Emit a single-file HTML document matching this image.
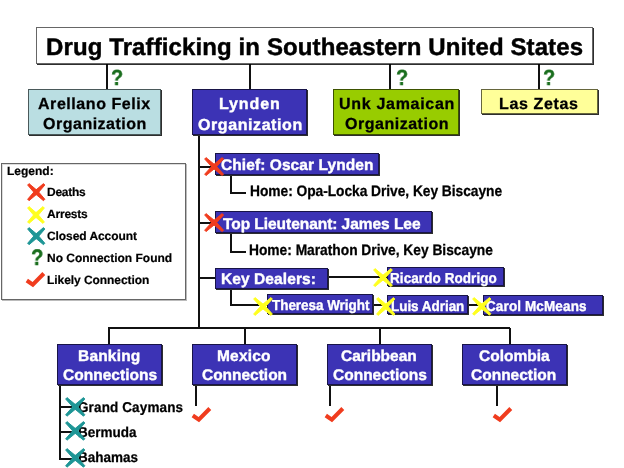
<!DOCTYPE html>
<html><head><meta charset="utf-8"><style>
html,body{margin:0;padding:0;}
body{width:624px;height:468px;overflow:hidden;background:#fff;position:relative;font-family:"Liberation Sans",sans-serif;}
.b{position:absolute;box-sizing:border-box;border:1px solid rgba(0,0,0,0.6);box-shadow:1px 1px 0 rgba(0,0,0,0.82);}
.l{position:absolute;background:#111;}
.t{text-rendering:geometricPrecision;position:absolute;will-change:transform;white-space:nowrap;font-weight:bold;line-height:normal;}
.i{position:absolute;overflow:visible;}
.q{text-rendering:geometricPrecision;position:absolute;will-change:transform;font-weight:bold;color:#1a6e1e;-webkit-text-stroke:0.4px #1a6e1e;line-height:normal;transform:scaleX(0.9);transform-origin:0 0;}
</style></head><body>
<div class="l" style="left:106.0px;top:63px;width:2px;height:26px"></div>
<div class="l" style="left:249.0px;top:63px;width:2px;height:26px"></div>
<div class="l" style="left:389.0px;top:63px;width:2px;height:26px"></div>
<div class="l" style="left:538.0px;top:63px;width:2px;height:26px"></div>
<div class="l" style="left:198.0px;top:136px;width:2px;height:192.60000000000002px"></div>
<div class="l" style="left:198px;top:165.5px;width:17px;height:2px"></div>
<div class="l" style="left:198px;top:221.5px;width:17px;height:2px"></div>
<div class="l" style="left:198px;top:277.0px;width:17px;height:2px"></div>
<div class="l" style="left:230.0px;top:176px;width:2px;height:17.5px"></div>
<div class="l" style="left:230px;top:191.5px;width:16px;height:2px"></div>
<div class="l" style="left:230.0px;top:234px;width:2px;height:19px"></div>
<div class="l" style="left:230px;top:251.0px;width:16px;height:2px"></div>
<div class="l" style="left:230.0px;top:290px;width:2px;height:16px"></div>
<div class="l" style="left:230px;top:304.0px;width:38px;height:2px"></div>
<div class="l" style="left:329px;top:276.0px;width:58px;height:2px"></div>
<div class="l" style="left:374px;top:304.0px;width:13px;height:2px"></div>
<div class="l" style="left:469px;top:304.0px;width:14px;height:2px"></div>
<div class="l" style="left:107.7px;top:326.6px;width:402.8px;height:2px"></div>
<div class="l" style="left:107.7px;top:327.6px;width:2px;height:16.399999999999977px"></div>
<div class="l" style="left:243.5px;top:327.6px;width:2px;height:16.399999999999977px"></div>
<div class="l" style="left:378.5px;top:327.6px;width:2px;height:16.399999999999977px"></div>
<div class="l" style="left:508.5px;top:327.6px;width:2px;height:16.399999999999977px"></div>
<div class="l" style="left:59.0px;top:386px;width:2px;height:73.5px"></div>
<div class="l" style="left:59px;top:406.0px;width:13px;height:2px"></div>
<div class="l" style="left:59px;top:431.0px;width:13px;height:2px"></div>
<div class="l" style="left:59px;top:457.5px;width:13px;height:2px"></div>
<div class="l" style="left:195.0px;top:386px;width:2px;height:20px"></div>
<div class="l" style="left:329.0px;top:386px;width:2px;height:20px"></div>
<div class="l" style="left:496.0px;top:386px;width:2px;height:20px"></div>
<div class="b" style="left:36px;top:27px;width:557px;height:37px;background:#fff;"></div>
<div class="b" style="left:28px;top:89px;width:133px;height:46px;background:#badee2;"></div>
<div class="b" style="left:192px;top:89px;width:115px;height:46px;background:#3c33b5;"></div>
<div class="b" style="left:333px;top:89px;width:126px;height:46px;background:#98cc00;"></div>
<div class="b" style="left:481px;top:89px;width:117px;height:25px;background:#ffff99;"></div>
<div class="b" style="left:215px;top:153px;width:164px;height:22px;background:#3c33b5;"></div>
<div class="b" style="left:215px;top:211px;width:217px;height:22px;background:#3c33b5;"></div>
<div class="b" style="left:215px;top:268px;width:113px;height:21px;background:#3c33b5;"></div>
<div class="b" style="left:387px;top:267px;width:117px;height:19px;background:#3c33b5;"></div>
<div class="b" style="left:267px;top:294px;width:106px;height:20px;background:#3c33b5;"></div>
<div class="b" style="left:387px;top:295px;width:81px;height:19px;background:#3c33b5;"></div>
<div class="b" style="left:483px;top:295px;width:120px;height:20px;background:#3c33b5;"></div>
<div class="b" style="left:57px;top:344px;width:105px;height:41px;background:#3c33b5;"></div>
<div class="b" style="left:192px;top:344px;width:105px;height:41px;background:#3c33b5;"></div>
<div class="b" style="left:327px;top:344px;width:105px;height:41px;background:#3c33b5;"></div>
<div class="b" style="left:462px;top:344px;width:105px;height:41px;background:#3c33b5;"></div>
<div class="b" style="left:1px;top:163px;width:185px;height:137px;background:#fff;border-color:#666;box-shadow:inset 1px 1px 0 #ddd,1px 1px 0 #bbb;"></div>
<div class="t" style="left:46.30px;top:33.68px;font-size:24px;letter-spacing:0.110px;color:#000;-webkit-text-stroke:0.45px #000">Drug Trafficking in Southeastern United States</div>
<div class="t" style="left:38.40px;top:95.56px;font-size:16px;letter-spacing:0.560px;color:#000;-webkit-text-stroke:0.29px #000">Arellano Felix</div>
<div class="t" style="left:43.20px;top:116.46px;font-size:16px;letter-spacing:0.508px;color:#000;-webkit-text-stroke:0.29px #000">Organization</div>
<div class="t" style="left:219.00px;top:95.56px;font-size:16px;letter-spacing:0.895px;color:#fff;-webkit-text-stroke:0.40px #fff">Lynden</div>
<div class="t" style="left:197.60px;top:116.56px;font-size:16px;letter-spacing:0.581px;color:#fff;-webkit-text-stroke:0.40px #fff">Organization</div>
<div class="t" style="left:338.70px;top:95.66px;font-size:16px;letter-spacing:0.701px;color:#000;-webkit-text-stroke:0.29px #000">Unk Jamaican</div>
<div class="t" style="left:344.90px;top:116.36px;font-size:16px;letter-spacing:0.517px;color:#000;-webkit-text-stroke:0.29px #000">Organization</div>
<div class="t" style="left:499.30px;top:95.56px;font-size:16px;letter-spacing:0.648px;color:#000;-webkit-text-stroke:0.29px #000">Las Zetas</div>
<div class="t" style="left:221.00px;top:156.62px;font-size:15.5px;letter-spacing:0.081px;color:#fff;-webkit-text-stroke:0.39px #fff">Chief: Oscar Lynden</div>
<div class="t" style="left:249.50px;transform:scaleY(1.1);transform-origin:0 12.72px;top:183.88px;font-size:13.8px;letter-spacing:-0.051px;color:#000;-webkit-text-stroke:0.25px #000">Home: Opa-Locka Drive, Key Biscayne</div>
<div class="t" style="left:222.90px;top:216.02px;font-size:15.5px;letter-spacing:-0.048px;color:#fff;-webkit-text-stroke:0.39px #fff">Top Lieutenant: James Lee</div>
<div class="t" style="left:249.00px;transform:scaleY(1.1);transform-origin:0 12.72px;top:243.38px;font-size:13.8px;letter-spacing:-0.022px;color:#000;-webkit-text-stroke:0.25px #000">Home: Marathon Drive, Key Biscayne</div>
<div class="t" style="left:220.50px;top:271.32px;font-size:15.5px;letter-spacing:0.086px;color:#fff;-webkit-text-stroke:0.39px #fff">Key Dealers:</div>
<div class="t" style="left:390.20px;transform:scaleY(1.07);transform-origin:0 12.44px;top:270.76px;font-size:13.5px;letter-spacing:0.078px;color:#fff;-webkit-text-stroke:0.34px #fff">Ricardo Rodrigo</div>
<div class="t" style="left:271.50px;transform:scaleY(1.07);transform-origin:0 12.44px;top:298.36px;font-size:13.5px;letter-spacing:-0.048px;color:#fff;-webkit-text-stroke:0.34px #fff">Theresa Wright</div>
<div class="t" style="left:390.60px;transform:scaleY(1.07);transform-origin:0 12.44px;top:298.56px;font-size:13.5px;letter-spacing:-0.041px;color:#fff;-webkit-text-stroke:0.34px #fff">Luis Adrian</div>
<div class="t" style="left:486.20px;transform:scaleY(1.07);transform-origin:0 12.44px;top:299.46px;font-size:13.5px;letter-spacing:0.123px;color:#fff;-webkit-text-stroke:0.34px #fff">Carol McMeans</div>
<div class="t" style="left:77.80px;top:348.02px;font-size:15.5px;letter-spacing:0.187px;color:#fff;-webkit-text-stroke:0.39px #fff">Banking</div>
<div class="t" style="left:62.90px;top:366.92px;font-size:15.5px;letter-spacing:0.026px;color:#fff;-webkit-text-stroke:0.39px #fff">Connections</div>
<div class="t" style="left:217.20px;top:348.02px;font-size:15.5px;letter-spacing:0.184px;color:#fff;-webkit-text-stroke:0.39px #fff">Mexico</div>
<div class="t" style="left:201.50px;top:366.92px;font-size:15.5px;letter-spacing:-0.019px;color:#fff;-webkit-text-stroke:0.39px #fff">Connection</div>
<div class="t" style="left:341.34px;top:348.02px;font-size:15.5px;letter-spacing:0.000px;color:#fff;-webkit-text-stroke:0.39px #fff">Caribbean</div>
<div class="t" style="left:332.58px;top:366.92px;font-size:15.5px;letter-spacing:0.000px;color:#fff;-webkit-text-stroke:0.39px #fff">Connections</div>
<div class="t" style="left:478.50px;top:348.02px;font-size:15.5px;letter-spacing:0.000px;color:#fff;-webkit-text-stroke:0.39px #fff">Colombia</div>
<div class="t" style="left:471.41px;top:366.92px;font-size:15.5px;letter-spacing:0.000px;color:#fff;-webkit-text-stroke:0.39px #fff">Connection</div>
<div class="t" style="left:78.40px;transform:scaleY(1.06);transform-origin:0 12.44px;top:400.26px;font-size:13.5px;letter-spacing:0.123px;color:#000;-webkit-text-stroke:0.24px #000">Grand Caymans</div>
<div class="t" style="left:78.40px;transform:scaleY(1.06);transform-origin:0 12.44px;top:425.36px;font-size:13.5px;letter-spacing:0.000px;color:#000;-webkit-text-stroke:0.24px #000">Bermuda</div>
<div class="t" style="left:78.40px;transform:scaleY(1.06);transform-origin:0 12.44px;top:449.86px;font-size:13.5px;letter-spacing:0.000px;color:#000;-webkit-text-stroke:0.24px #000">Bahamas</div>
<div class="t" style="left:6.70px;top:163.64px;font-size:12px;letter-spacing:0.005px;color:#000;-webkit-text-stroke:0.21px #000">Legend:</div>
<div class="t" style="left:47.20px;top:184.94px;font-size:12px;letter-spacing:-0.268px;color:#000;-webkit-text-stroke:0.21px #000">Deaths</div>
<div class="t" style="left:47.20px;top:206.64px;font-size:12px;letter-spacing:-0.208px;color:#000;-webkit-text-stroke:0.21px #000">Arrests</div>
<div class="t" style="left:47.20px;top:229.24px;font-size:12px;letter-spacing:-0.073px;color:#000;-webkit-text-stroke:0.21px #000">Closed Account</div>
<div class="t" style="left:47.20px;top:250.54px;font-size:12px;letter-spacing:-0.010px;color:#000;-webkit-text-stroke:0.21px #000">No Connection Found</div>
<div class="t" style="left:47.20px;top:272.54px;font-size:12px;letter-spacing:-0.064px;color:#000;-webkit-text-stroke:0.21px #000">Likely Connection</div>
<svg class="i" style="left:202.1px;top:155.1px" width="24.2" height="23.2"><path d="M2.65,4.03 L10.79,12.98 L20.19,20.60 L21.55,19.17 L13.41,10.22 L4.01,2.60ZM20.19,2.60 L10.79,10.22 L2.65,19.17 L4.01,20.60 L13.41,12.98 L21.55,4.03Z" fill="#f03c1e" stroke="#f03c1e" stroke-width="0.95" stroke-linejoin="round"/></svg>
<svg class="i" style="left:202.1px;top:211.1px" width="24.2" height="23.2"><path d="M2.65,4.03 L10.79,12.98 L20.19,20.60 L21.55,19.17 L13.41,10.22 L4.01,2.60ZM20.19,2.60 L10.79,10.22 L2.65,19.17 L4.01,20.60 L13.41,12.98 L21.55,4.03Z" fill="#f03c1e" stroke="#f03c1e" stroke-width="0.95" stroke-linejoin="round"/></svg>
<svg class="i" style="left:370.65px;top:265.9px" width="24" height="23.2"><path d="M2.65,4.03 L10.69,12.97 L19.99,20.60 L21.35,19.17 L13.31,10.23 L4.01,2.60ZM19.99,2.60 L10.69,10.23 L2.65,19.17 L4.01,20.60 L13.31,12.97 L21.35,4.03Z" fill="#ffff1e" stroke="#ffff1e" stroke-width="0.95" stroke-linejoin="round"/></svg>
<svg class="i" style="left:250.60000000000002px;top:295.0px" width="24" height="23"><path d="M2.65,4.03 L10.70,12.88 L19.99,20.41 L21.35,18.97 L13.30,10.12 L4.01,2.59ZM19.99,2.59 L10.70,10.12 L2.65,18.97 L4.01,20.41 L13.30,12.88 L21.35,4.03Z" fill="#ffff1e" stroke="#ffff1e" stroke-width="0.95" stroke-linejoin="round"/></svg>
<svg class="i" style="left:373.7px;top:294.8px" width="23.5" height="23"><path d="M2.64,4.03 L10.43,12.86 L19.48,20.39 L20.86,18.97 L13.07,10.14 L4.02,2.61ZM19.48,2.61 L10.43,10.14 L2.64,18.97 L4.02,20.39 L13.07,12.86 L20.86,4.03Z" fill="#ffff1e" stroke="#ffff1e" stroke-width="0.95" stroke-linejoin="round"/></svg>
<svg class="i" style="left:469.9px;top:295.1px" width="23.5" height="22.8"><path d="M2.64,4.03 L10.43,12.77 L19.49,20.20 L20.86,18.77 L13.07,10.03 L4.01,2.60ZM19.49,2.60 L10.43,10.03 L2.64,18.77 L4.01,20.20 L13.07,12.77 L20.86,4.03Z" fill="#ffff1e" stroke="#ffff1e" stroke-width="0.95" stroke-linejoin="round"/></svg>
<svg class="i" style="left:62.75px;top:394.8px" width="24.5" height="23.8"><path d="M2.64,4.03 L10.93,13.27 L20.49,21.20 L21.86,19.77 L13.57,10.53 L4.01,2.60ZM20.49,2.60 L10.93,10.53 L2.64,19.77 L4.01,21.20 L13.57,13.27 L21.86,4.03Z" fill="#1e9696" stroke="#1e9696" stroke-width="0.95" stroke-linejoin="round"/></svg>
<svg class="i" style="left:62.75px;top:419.40000000000003px" width="24.5" height="23.8"><path d="M2.64,4.03 L10.93,13.27 L20.49,21.20 L21.86,19.77 L13.57,10.53 L4.01,2.60ZM20.49,2.60 L10.93,10.53 L2.64,19.77 L4.01,21.20 L13.57,13.27 L21.86,4.03Z" fill="#1e9696" stroke="#1e9696" stroke-width="0.95" stroke-linejoin="round"/></svg>
<svg class="i" style="left:62.75px;top:446.40000000000003px" width="24.5" height="23.8"><path d="M2.64,4.03 L10.93,13.27 L20.49,21.20 L21.86,19.77 L13.57,10.53 L4.01,2.60ZM20.49,2.60 L10.93,10.53 L2.64,19.77 L4.01,21.20 L13.57,13.27 L21.86,4.03Z" fill="#1e9696" stroke="#1e9696" stroke-width="0.95" stroke-linejoin="round"/></svg>
<svg class="i" style="left:25.35px;top:181.35px" width="22.5" height="22.3"><path d="M2.63,4.02 L9.91,12.50 L18.48,19.68 L19.87,18.28 L12.59,9.80 L4.02,2.62ZM18.48,2.62 L9.91,9.80 L2.63,18.28 L4.02,19.68 L12.59,12.50 L19.87,4.02Z" fill="#f03c1e" stroke="#f03c1e" stroke-width="0.95" stroke-linejoin="round"/></svg>
<svg class="i" style="left:25.299999999999997px;top:203.5px" width="22" height="22"><path d="M2.62,4.02 L9.66,12.34 L17.98,19.38 L19.38,17.98 L12.34,9.66 L4.02,2.62ZM17.98,2.62 L9.66,9.66 L2.62,17.98 L4.02,19.38 L12.34,12.34 L19.38,4.02Z" fill="#ffff1e" stroke="#ffff1e" stroke-width="0.95" stroke-linejoin="round"/></svg>
<svg class="i" style="left:25.35px;top:225.45px" width="22.5" height="22.3"><path d="M2.63,4.02 L9.91,12.50 L18.48,19.68 L19.87,18.28 L12.59,9.80 L4.02,2.62ZM18.48,2.62 L9.91,9.80 L2.63,18.28 L4.02,19.68 L12.59,12.50 L19.87,4.02Z" fill="#1e9696" stroke="#1e9696" stroke-width="0.95" stroke-linejoin="round"/></svg>
<svg class="i" style="left:189.5px;top:405px" width="24" height="18"><path d="M2.8,10.5 L8.8,14.6 L19.8,3.5" stroke="#f03c1e" stroke-width="4.1" fill="none" stroke-linejoin="miter"/></svg>
<svg class="i" style="left:323.3px;top:404.5px" width="24" height="18"><path d="M2.8,10.5 L8.8,14.6 L19.8,3.5" stroke="#f03c1e" stroke-width="4.1" fill="none" stroke-linejoin="miter"/></svg>
<svg class="i" style="left:491px;top:404.5px" width="24" height="18"><path d="M2.8,10.5 L8.8,14.6 L19.8,3.5" stroke="#f03c1e" stroke-width="4.1" fill="none" stroke-linejoin="miter"/></svg>
<svg class="i" style="left:23.5px;top:269.5px" width="24" height="18"><path d="M2.8,10.5 L8.8,14.6 L19.8,3.5" stroke="#f03c1e" stroke-width="4.1" fill="none" stroke-linejoin="miter"/></svg>
<div class="q" style="left:110.7px;top:65.0px;font-size:22px">?</div>
<div class="q" style="left:396.2px;top:65.0px;font-size:22px">?</div>
<div class="q" style="left:542.7px;top:65.0px;font-size:22px">?</div>
<div class="q" style="left:31.0px;top:244.8px;font-size:22.5px">?</div>
</body></html>
